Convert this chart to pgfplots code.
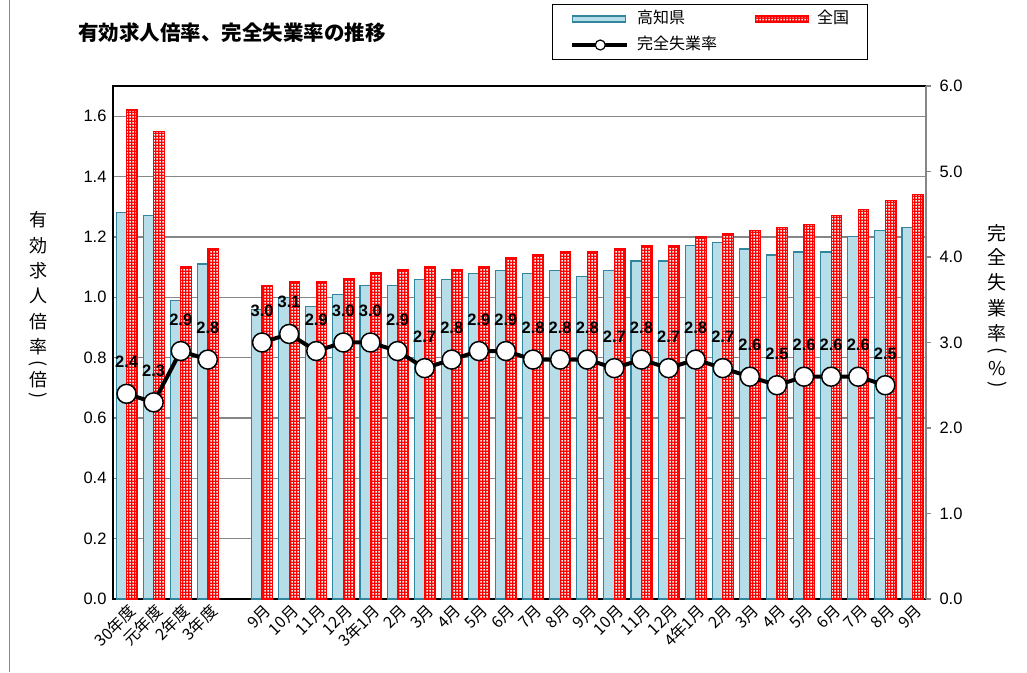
\documentclass[border=0pt]{standalone}
\usepackage{fontspec}
\setmainfont{Liberation Sans}
\newfontfamily\jp{Noto Sans CJK JP}
\usepackage{pgfplots}
\pgfplotsset{compat=1.18}
\usetikzlibrary{patterns}
\pgfdeclarepatternformonly{reddots}{\pgfqpoint{0pt}{0pt}}{\pgfqpoint{3pt}{3pt}}{\pgfqpoint{3pt}{3pt}}{%
  \pgfpathrectangle{\pgfqpoint{0.6pt}{0.6pt}}{\pgfqpoint{1.8pt}{1.8pt}}%
  \pgfusepath{fill}}
\definecolor{kblue}{HTML}{B7DDE8}
\definecolor{kbord}{HTML}{31859C}
\definecolor{gridc}{HTML}{868686}
\begin{document}
\begin{tikzpicture}[x=1pt,y=1pt]
\useasboundingbox (0pt,0pt) rectangle (1027pt,672pt);
\fill[white] (0pt,0pt) rectangle (1027pt,672pt);
\draw[color=gridc, line width=1pt] (9pt,0pt) -- (9pt,672pt);
\node[font=\jp\bfseries\fontsize{20.5}{20.5}\selectfont] at (232pt,639pt) {有効求人倍率、完全失業率の推移};
\foreach \c/\yy in {有/220,効/246,求/271,人/296,倍/322,率/347,倍/380}
  \node[font=\jp\fontsize{18}{18}\selectfont, inner sep=0pt] at (38pt,672pt-\yy pt) {\c};
\node[font=\jp\fontsize{18}{18}\selectfont, inner sep=0pt, rotate=-90] at (38pt,672pt-364pt) {(};
\node[font=\jp\fontsize{18}{18}\selectfont, inner sep=0pt, rotate=-90] at (38pt,672pt-396pt) {)};
\foreach \c/\yy in {完/233,全/257,失/282,業/308,率/333,\%/369}
  \node[font=\jp\fontsize{19}{19}\selectfont, inner sep=0pt] at (997pt,672pt-\yy pt) {\c};
\node[font=\jp\fontsize{19}{19}\selectfont, inner sep=0pt, rotate=-90] at (997pt,672pt-351pt) {(};
\node[font=\jp\fontsize{19}{19}\selectfont, inner sep=0pt, rotate=-90] at (997pt,672pt-385pt) {)};

\begin{axis}[at={(113pt,73pt)}, anchor=south west, scale only axis, width=813pt, height=513pt,
  xmin=-0.5, xmax=29.5, ymin=0, ymax=1.7,
  xtick={0,1,2,3,5,6,7,8,9,10,11,12,13,14,15,16,17,18,19,20,21,22,23,24,25,26,27,28,29},
  xticklabels={30年度,元年度,2年度,3年度,9月,10月,11月,12月,3年1月,2月,3月,4月,5月,6月,7月,8月,9月,10月,11月,12月,4年1月,2月,3月,4月,5月,6月,7月,8月,9月},
  xticklabel style={font=\jp\fontsize{16}{16}\selectfont, rotate=45, anchor=east, inner sep=0pt, xshift=-2pt, yshift=-11pt},
  ytick={0,0.2,0.4,0.6,0.8,1.0,1.2,1.4,1.6},
  yticklabel={\pgfmathprintnumber[fixed,fixed zerofill,precision=1,assume math mode=true]{\tick}},
  yticklabel style={font=\fontsize{16.5}{16.5}\selectfont, xshift=-3pt},
  ymajorgrids, grid style={color=gridc, line width=1.3pt},
  major tick length=0pt,
  axis line style={black, line width=2.2pt},
]
\addplot[ybar, bar width=10.5pt, bar shift=-5.25pt, fill=kblue, draw=kbord, line width=1.1pt] coordinates {
(0,1.28) (1,1.27) (2,0.99) (3,1.11)
(5,0.96) (6,1.00) (7,0.97) (8,1.01) (9,1.04) (10,1.04) (11,1.06) (12,1.06) (13,1.08) (14,1.09)
(15,1.08) (16,1.09) (17,1.07) (18,1.09) (19,1.12) (20,1.12) (21,1.17) (22,1.18) (23,1.16) (24,1.14)
(25,1.15) (26,1.15) (27,1.20) (28,1.22) (29,1.23)};
\addplot[ybar, bar width=10.5pt, bar shift=5.25pt, preaction={fill=red}, pattern=reddots, pattern color=white, draw=red, line width=1.3pt] coordinates {
(0,1.62) (1,1.55) (2,1.10) (3,1.16)
(5,1.04) (6,1.05) (7,1.05) (8,1.06) (9,1.08) (10,1.09) (11,1.10) (12,1.09) (13,1.10) (14,1.13)
(15,1.14) (16,1.15) (17,1.15) (18,1.16) (19,1.17) (20,1.17) (21,1.20) (22,1.21) (23,1.22) (24,1.23)
(25,1.24) (26,1.27) (27,1.29) (28,1.32) (29,1.34)};
\end{axis}

\begin{axis}[at={(113pt,73pt)}, anchor=south west, scale only axis, width=813pt, height=513pt,
  xmin=-0.5, xmax=29.5, ymin=0, ymax=6,
  axis x line=none, axis y line*=right, xtick=\empty,
  y axis line style={color=gridc, line width=2pt},
  ytick={0,1,2,3,4,5,6},
  yticklabel={\pgfmathprintnumber[fixed,fixed zerofill,precision=1,assume math mode=true]{\tick}},
  yticklabel style={font=\fontsize{16.5}{16.5}\selectfont, anchor=west, xshift=5pt},
  tick style={color=gridc, line width=1.3pt}, major tick length=5pt, tick align=outside,
  legend columns=2,
  legend style={at={(axis description cs:0.5400,1.1598)}, anchor=north west, draw=black, line width=1pt, fill=white,
    inner xsep=18pt, inner ysep=3pt, column sep=8pt, row sep=3pt,
    /tikz/every even column/.append style={column sep=10pt},
    font=\jp\fontsize{16}{16}\selectfont, cells={anchor=west},
    nodes={text height=12pt, text depth=3pt, inner ysep=4pt, inner xsep=0pt}},
  lineplot/.style={black, line width=4pt, line join=round, mark=*, mark size=9.5pt,
    mark options={fill=white, draw=black, line width=1.5pt, solid},
    nodes near coords={\pgfmathprintnumber[fixed,fixed zerofill,precision=1,assume math mode=true]{\pgfplotspointmeta}},
    every node near coord/.append style={font=\bfseries\fontsize{16.5}{16.5}\selectfont, anchor=base, yshift=26pt, inner sep=0pt, black},
    forget plot},
]
\addlegendimage{legend image code/.code={\draw[fill=kblue, draw=kbord, line width=1.2pt] (0pt,-3pt) rectangle (53pt,3pt);}}
\addlegendentry{\makebox[108pt][l]{高知県}}
\addlegendimage{legend image code/.code={\draw[preaction={fill=red}, pattern=reddots, pattern color=white, draw=red, line width=1.2pt] (0pt,-3pt) rectangle (53pt,3pt);}}
\addlegendentry{全国}
\addlegendimage{legend image code/.code={\draw[black, line width=3.5pt] (0pt,0pt) -- (55pt,0pt); \draw[black, fill=white, line width=1.2pt] (28pt,0pt) circle (5pt);}}
\addlegendentry{完全失業率}
\addplot[lineplot] coordinates {(0,2.4) (1,2.3) (2,2.9) (3,2.8)};
\addplot[lineplot] coordinates {
(5,3.0) (6,3.1) (7,2.9) (8,3.0) (9,3.0) (10,2.9) (11,2.7) (12,2.8) (13,2.9) (14,2.9)
(15,2.8) (16,2.8) (17,2.8) (18,2.7) (19,2.8) (20,2.7) (21,2.8) (22,2.7) (23,2.6) (24,2.5)
(25,2.6) (26,2.6) (27,2.6) (28,2.5)};
\end{axis}
\end{tikzpicture}
\end{document}
